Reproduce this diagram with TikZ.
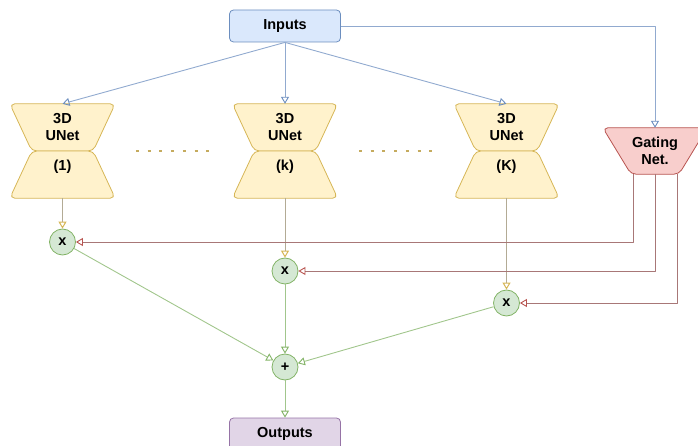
\documentclass[tikz,border=0pt]{standalone}
\usepackage{fontspec}
\setmainfont{Liberation Sans}
\usetikzlibrary{arrows.meta}

\definecolor{inFill}{HTML}{DAE8FC}
\definecolor{inLine}{HTML}{6C8EBF}
\definecolor{unFill}{HTML}{FFF2CC}
\definecolor{unLine}{HTML}{D6B656}
\definecolor{gtFill}{HTML}{F8CECC}
\definecolor{gtLine}{HTML}{B85450}
\definecolor{opFill}{HTML}{D5E8D4}
\definecolor{opLine}{HTML}{82B366}
\definecolor{outFill}{HTML}{E1D5E7}
\definecolor{outLine}{HTML}{9673A6}
\definecolor{tanWire}{HTML}{B3AB95}
\definecolor{redWire}{HTML}{A87777}

\tikzset{
  lbl/.style={inner sep=0pt, align=center, font=\fontsize{14.5}{17}\selectfont\bfseries},
  boxnode/.style={lbl, draw, rounded corners=4pt, minimum width=111pt, minimum height=32pt, line width=0.8pt},
  opnode/.style={lbl, circle, draw=opLine, fill=opFill, minimum size=26pt, line width=0.8pt},
  holder/.style={inner sep=0pt},
  blueline/.style={draw=inLine!75!white, line width=0.9pt, -{Triangle[open, length=7pt, width=8pt, color=inLine]}},
  tanline/.style={draw=tanWire, line width=1pt, -{Triangle[open, length=7pt, width=8pt, color=unLine]}},
  redline/.style={draw=redWire, line width=0.9pt, -{Triangle[open, length=7pt, width=8pt, color=gtLine]}},
  greenline/.style={draw=opLine!75!white, line width=0.9pt, -{Triangle[open, length=7pt, width=8pt, color=opLine]}},
}

\begin{document}
\begin{tikzpicture}[x=1pt, y=-1pt, line join=round]

  %% ════ Inputs / Outputs ════
  \node[boxnode, draw=inLine, fill=inFill] (inp) at (285,26) {Inputs};
  \node[boxnode, draw=outLine, fill=outFill] (outp) at (285,434) {Outputs};

  %% ════ 3D UNet（两个梯形叠成沙漏）════
  \foreach \n/\cx/\lab in {u1/62.5/{(1)}, uk/285/{(k)}, uK/506.5/{(K)}} {
    \node[holder, minimum width=105pt, minimum height=94pt] (\n) at (\cx,151) {};
    \draw[draw=unLine, fill=unFill, line width=0.8pt, rounded corners=5pt]
      (\n.north west) -- (\n.north east) -- ([xshift=-22pt]\n.east) -- ([xshift=22pt]\n.west) -- cycle;
    \draw[draw=unLine, fill=unFill, line width=0.8pt, rounded corners=5pt]
      ([xshift=22pt]\n.west) -- ([xshift=-22pt]\n.east) -- (\n.south east) -- (\n.south west) -- cycle;
    \node[lbl] (\n-t) at (\cx,127) {3D\\UNet};
    \node[lbl] (\n-l) at (\cx,167) {\lab};
  }

  %% 省略号
  \draw[draw=unLine!80!gray, line width=2.6pt, dash pattern=on 3pt off 8.7pt] (136,151) -- (210,151);
  \draw[draw=unLine!80!gray, line width=2.6pt, dash pattern=on 3pt off 8.7pt] (359,151) -- (433,151);

  %% ════ Gating Net.（倒梯形，右侧被画布截掉）════
  \node[holder, minimum width=104pt, minimum height=46pt] (gate) at (655,151) {};
  \draw[draw=gtLine, fill=gtFill, line width=0.8pt, rounded corners=5pt]
    (gate.north west) -- (gate.north east) -- ([xshift=24pt]gate.south) -- ([xshift=-24pt]gate.south) -- cycle;
  \node[lbl] (gate-t) at (655,151) {Gating\\Net.};

  %% ════ 乘 / 加 ════
  \node[opnode] (m1) at (62.5,242) {x};
  \node[opnode] (mk) at (285,271) {x};
  \node[opnode] (mK) at (506.5,303) {x};
  \node[opnode] (sum) at (285,367) {+};

  %% ════ 连线 ════
  \draw[blueline] (inp.south) -- (u1.north);
  \draw[blueline] (inp.south) -- (uk.north);
  \draw[blueline] (inp.south) -- (uK.north);
  \draw[blueline] (inp.east) -| (gate.north);

  \draw[tanline] (u1.south) -- (m1);
  \draw[tanline] (uk.south) -- (mk);
  \draw[tanline] (uK.south) -- (mK);

  \draw[redline] ([xshift=-22pt]gate.south) |- (m1);
  \draw[redline] (gate.south) |- (mk);
  \draw[redline] ([xshift=22pt]gate.south) |- (mK);

  \draw[greenline] (m1) -- (sum);
  \draw[greenline] (mk) -- (sum);
  \draw[greenline] (mK) -- (sum);
  \draw[greenline] (sum) -- (outp);

  % 钉死画布
  \pgfresetboundingbox
  \path[use as bounding box] (0,0) rectangle (698,446);
\end{tikzpicture}
\end{document}
